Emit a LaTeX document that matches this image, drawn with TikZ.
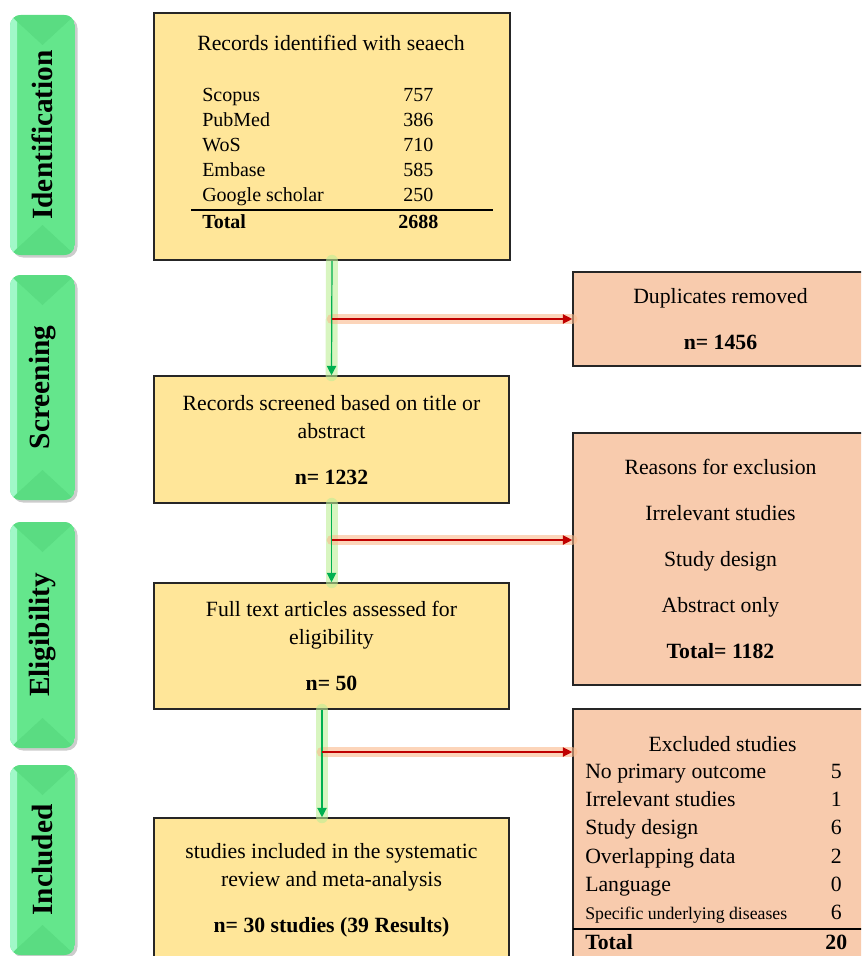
\documentclass[tikz,border=0pt]{standalone}
\usepackage{fontspec}
\setmainfont{Liberation Serif}
\usepackage{array}
\usetikzlibrary{arrows.meta}

\definecolor{boxyellow}{RGB}{255,230,153}
\definecolor{boxpeach}{RGB}{248,203,173}
\definecolor{tabgreen}{RGB}{100,230,140}
\definecolor{tablight}{RGB}{160,248,200}
\definecolor{tabdark}{RGB}{90,220,130}
\definecolor{flowgreen}{RGB}{0,176,80}
\definecolor{glowgreen}{RGB}{190,238,150}
\definecolor{flowred}{RGB}{192,0,0}
\definecolor{glowred}{RGB}{250,185,140}

\begin{document}
\begin{tikzpicture}[
  x=0.75pt, y=-0.75pt,
  >={Triangle[length=7pt,width=7pt]},
  font=\fontsize{16.3}{21}\selectfont,
  ybox/.style={rectangle, draw=black!85, line width=1.2pt, fill=boxyellow, inner sep=0pt, align=center,
               text depth=0pt, minimum width=266.25pt},
  pbox/.style={ybox, fill=boxpeach, minimum width=221.25pt},
  tabtext/.style={rotate=90, font=\fontsize{22}{26}\selectfont\bfseries},
  greenflow/.style={->, flowgreen, line width=0.9pt},
  redflow/.style={->, flowred, line width=0.9pt},
  greenglow/.style={glowgreen, line width=9pt, opacity=0.6, line cap=round},
  redglow/.style={glowred, line width=8pt, opacity=0.6, line cap=round}
]
\useasboundingbox (0,0) rectangle (861,956);
\clip (0,0) rectangle (861,956);
% -------------------------------------------------------------------------
% PHASE TABS
% -------------------------------------------------------------------------
\foreach \nm/\ya/\yb/\txt in {ident/15/255/Identification, screen/275/500/Screening,
                              elig/522/748/Eligibility, incl/765/955/Included}{
  \fill[black!20, rounded corners=8] (12.5,\ya+2.5) rectangle (77.5,\yb+2.5);
  \begin{scope}
    \clip[rounded corners=8] (10,\ya) rectangle (75,\yb);
    \fill[tabgreen] (10,\ya) rectangle (75,\yb);
    \fill[tabdark] (10,\ya) -- (75,\ya) -- (42.5,\ya+30) -- cycle;
    \fill[tabdark] (10,\yb) -- (75,\yb) -- (42.5,\yb-30) -- cycle;
    \fill[tablight] (10,\ya) -- (17,\ya+7) -- (17,\yb-7) -- (10,\yb) -- cycle;
  \end{scope}
  \node[tabtext] (\nm) at (42.5,{(\ya+\yb)/2}) {\txt};
}
% -------------------------------------------------------------------------
% MAIN FLOW
% -------------------------------------------------------------------------
\node[ybox, minimum width=267pt, minimum height=185.25pt] (search) at (332,136.5) {};
\node[anchor=base] (searchtitle) at (331,51) {Records identified with seaech};
\node[anchor=base west, inner sep=0pt, font=\fontsize{15}{18.75}\selectfont] (searchtab) at (191,101.7) {%
  \setlength{\arrayrulewidth}{1.3pt}%
  \begin{tabular}[t]{@{\hspace{8.25pt}}p{133.5pt}@{}>{\centering\arraybackslash}p{57pt}@{\hspace{27.75pt}}}
    Scopus & 757\\
    PubMed & 386\\
    WoS & 710\\
    Embase & 585\\
    Google scholar & 250\\ \hline
    \textbf{Total} & \textbf{2688}
  \end{tabular}};
\node[ybox, minimum height=95.25pt] (screened) at (331.5,439.5) {Records screened based on title or\\ abstract\\[13.5pt] \textbf{n= 1232}};
\node[ybox, minimum height=94.5pt] (fulltext) at (331.5,646) {Full text articles assessed for\\ eligibility\\[13pt] \textbf{n= 50}};
\node[ybox, minimum height=105pt] (included) at (331.5,888) {studies included in the systematic\\ review and meta-analysis\\[13pt] \textbf{n= 30 studies (39 Results)}};
% -------------------------------------------------------------------------
% EXCLUSIONS
% -------------------------------------------------------------------------
\node[pbox, minimum height=70.5pt] (dup) at (720.5,319) {Duplicates removed\\[13pt] \textbf{n= 1456}};
\node[pbox, minimum height=189pt, font=\fontsize{16.3}{34.5}\selectfont] (reasons) at (720.5,559) {Reasons for exclusion\\ Irrelevant studies\\ Study design\\ Abstract only\\ \textbf{Total= 1182}};
\node[pbox, minimum height=192pt] (excluded) at (720.5,837) {};
\node[anchor=base] (excltitle) at (722.5,751.7) {Excluded studies};
\node[anchor=base west, inner sep=0pt, font=\fontsize{16.3}{21.2}\selectfont] (excltab) at (573,778.3) {%
  \setlength{\arrayrulewidth}{1.3pt}%
  \begin{tabular}[t]{@{\hspace{9pt}}p{161.25pt}@{}>{\centering\arraybackslash}p{54pt}@{}}
    No primary outcome & 5\\
    Irrelevant studies & 1\\
    Study design & 6\\
    Overlapping data & 2\\
    Language & 0\\
    {\fontsize{13.3}{16}\selectfont Specific underlying diseases} & 6\\ \hline
    \textbf{Total} & \textbf{20}
  \end{tabular}};
% -------------------------------------------------------------------------
% CONNECTORS
% -------------------------------------------------------------------------
\coordinate (j1) at (search.south |- dup.west);
\coordinate (j2) at (332,540);
\coordinate (j3) at (322,752);
\draw[greenglow] (search.south) -- (screened.north);
\draw[greenglow] (screened.south) -- (fulltext.north);
\draw[greenglow] (j3 |- fulltext.south) -- (j3 |- included.north);
\draw[redglow] (j1) -- (dup.west);
\draw[redglow] (j2) -- (j2 -| reasons.west);
\draw[redglow] (j3) -- (j3 -| excluded.west);
\draw[greenflow] (search.south) -- (screened.north);
\draw[greenflow] (screened.south) -- (fulltext.north);
\draw[greenflow] (j3 |- fulltext.south) -- (j3 |- included.north);
\draw[redflow] (j1) -- (dup.west);
\draw[redflow] (j2) -- (j2 -| reasons.west);
\draw[redflow] (j3) -- (j3 -| excluded.west);
\end{tikzpicture}
\end{document}
